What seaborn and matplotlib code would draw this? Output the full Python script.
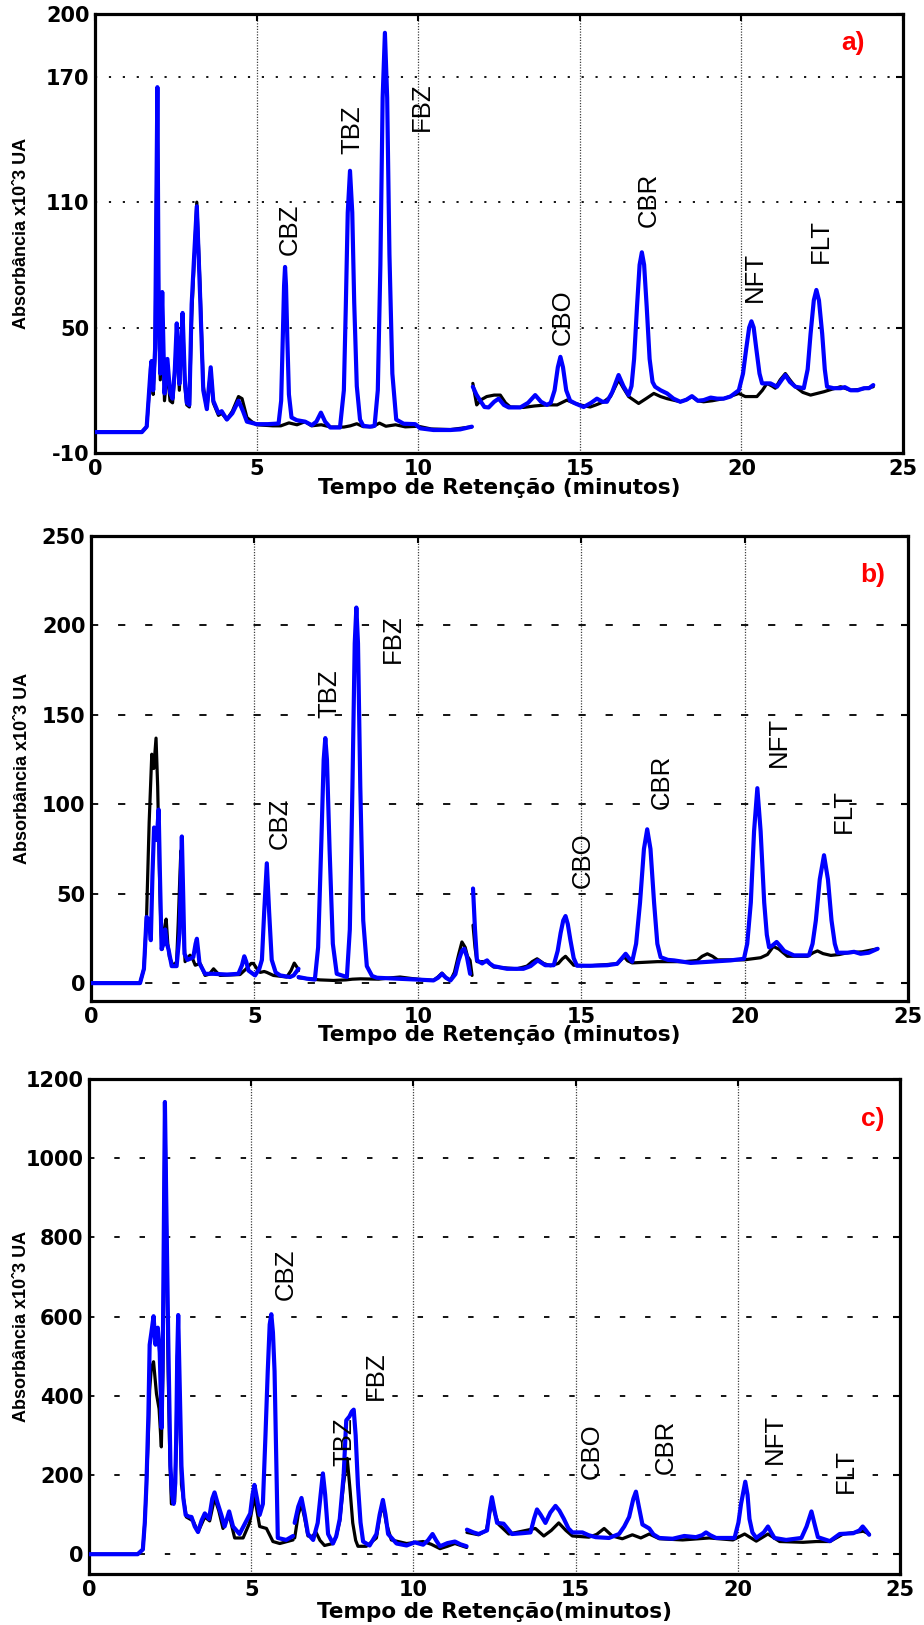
import matplotlib
matplotlib.use("Agg")
import matplotlib.pyplot as plt
import seaborn as sns
import pandas as pd
import numpy as np

# ---------------- data ----------------
peak_names = ['CBZ', 'TBZ', 'FBZ', 'CBO', 'CBR', 'NFT', 'FLT']

# panel a
a_blue_1 = [(0,0),(1.45,0),(1.6,2.6),(1.72,30),(1.75,34),(1.80,20),(1.86,40),(1.93,165),(1.97,60),(2.02,28),(2.08,67),(2.15,18.5),(2.24,35),(2.32,19),(2.40,16),(2.47,30),(2.53,52),(2.61,23),(2.66,40),(2.71,57),(2.78,25),(2.84,14),(2.92,13),(2.99,61),(3.07,85),(3.15,108),(3.25,66),(3.35,20),(3.46,11),(3.58,31),(3.66,15),(3.82,9),(3.92,10),(4.08,6),(4.25,9),(4.44,15),(4.58,10),(4.70,5),(5.0,3.8),(5.35,3.8),(5.68,4.1),(5.76,15),(5.81,45),(5.85,70),(5.88,79),(5.91,70),(5.95,45),(6.00,18),(6.08,7),(6.24,5.7),(6.50,5),(6.71,3.3),(6.85,5),(6.99,9.3),(7.12,5),(7.28,2.2),(7.58,2.2),(7.70,20),(7.76,60),(7.82,105),(7.89,125),(7.96,105),(8.02,62),(8.10,22),(8.20,6),(8.30,3),(8.51,2.6),(8.65,3),(8.75,20),(8.83,80),(8.90,160),(8.97,191),(9.04,160),(9.11,85),(9.20,28),(9.32,6),(9.55,4),(9.91,3.8),(10.06,1.8),(10.47,1),(11.0,1),(11.3,1.3),(11.66,2.6)]
a_black_1 = [(0,0),(1.45,0),(1.6,2.6),(1.72,28),(1.75,32),(1.80,18),(1.86,38),(1.93,160),(1.97,55),(2.02,25),(2.08,60),(2.15,15),(2.24,30),(2.32,15),(2.40,14),(2.47,28),(2.53,48),(2.61,20),(2.66,38),(2.71,55),(2.78,22),(2.84,13),(2.92,12),(2.99,55),(3.07,82),(3.15,110),(3.25,70),(3.35,22),(3.46,11),(3.58,30),(3.66,14),(3.82,8),(3.92,9),(4.08,6),(4.25,10),(4.44,17),(4.55,16),(4.70,7),(4.85,5),(5.0,3.5),(5.5,3),(5.75,3),(6.0,4.4),(6.25,3.5),(6.5,5),(6.7,3),(7.0,3.5),(7.3,2.4),(7.7,2.4),(7.9,3),(8.1,4),(8.3,2.6),(8.6,2.6),(8.8,4.3),(9.0,2.8),(9.3,3.5),(9.6,2.5),(10.0,2.8),(10.4,1.5),(11.0,1.2),(11.66,2.5)]
a_blue_2 = [(11.69,21.7),(11.8,18),(11.92,15),(12.05,12),(12.18,11.8),(12.35,14.5),(12.49,16),(12.65,13),(12.8,11.8),(13.16,11.8),(13.4,14),(13.62,17.7),(13.8,14.5),(13.98,13),(14.10,14),(14.22,20),(14.32,31),(14.40,36),(14.48,31),(14.58,20),(14.70,15),(14.86,13.7),(15.12,12),(15.35,14),(15.53,16),(15.70,14.5),(15.84,14.5),(16.0,19),(16.20,27.3),(16.35,22),(16.51,17.7),(16.60,22),(16.68,35),(16.77,60),(16.85,80),(16.92,86),(16.99,80),(17.07,60),(17.16,35),(17.25,24),(17.33,21.7),(17.5,20),(17.70,18.5),(17.9,16),(18.11,14.5),(18.30,15.5),(18.47,17.2),(18.65,15),(18.83,15.3),(19.05,16.5),(19.25,16),(19.45,16),(19.66,17),(19.92,20),(20.05,28),(20.15,40),(20.24,50),(20.31,53),(20.38,50),(20.46,40),(20.56,28),(20.64,23.3),(20.90,23.3),(21.1,21.7),(21.25,25),(21.36,27.3),(21.5,24),(21.67,21.7),(21.93,21),(22.05,30),(22.14,47),(22.24,63),(22.32,68),(22.40,63),(22.50,47),(22.58,30),(22.65,21.7),(22.85,21),(23.07,21),(23.2,21.5),(23.38,20),(23.6,20),(23.79,21),(23.95,21),(24.08,22.5)]
a_black_2 = [(11.69,23.3),(11.81,13),(11.95,15.5),(12.12,17),(12.35,17.7),(12.54,17.7),(12.7,14),(12.85,12),(13.26,11.8),(13.6,12.5),(13.98,13),(14.3,13),(14.60,15.3),(14.8,14),(15.01,13),(15.32,12),(15.5,13),(15.74,14.5),(15.95,17),(16.20,25),(16.35,21),(16.51,17),(16.82,13.7),(17.05,16),(17.29,18.5),(17.50,17),(17.70,16),(18.11,14.5),(18.30,15.5),(18.47,17),(18.65,15),(18.83,14.5),(19.1,15),(19.45,16),(19.92,18.5),(20.12,17),(20.48,17),(20.65,20),(20.79,23.3),(20.95,22),(21.05,21),(21.2,25),(21.36,28),(21.5,25),(21.67,21.7),(21.9,19),(22.14,17.7),(22.55,19.3),(22.8,20.5),(23.07,21.7),(23.38,20),(23.7,20.5),(24.08,21.7)]
a_label_t = [6.04, 7.95, 10.12, 14.47, 17.12, 20.43, 22.47]
a_label_y = [97, 144.5, 155.6, 55, 111, 74, 91.5]
a_yticks = [-10, 50, 110, 170, 200]

# panel b
b_blue_1 = [(0,0),(1.50,0),(1.62,8),(1.70,37),(1.78,35),(1.83,24),(1.88,60),(1.93,87),(2.01,80),(2.07,97),(2.11,60),(2.16,19),(2.22,22),(2.27,30),(2.32,22),(2.37,19),(2.47,9.5),(2.62,9.5),(2.71,28),(2.75,60),(2.78,82),(2.82,50),(2.86,16.4),(2.95,13),(3.03,13.6),(3.13,14.5),(3.20,22),(3.24,24.8),(3.28,18),(3.32,11),(3.49,5.2),(3.75,5.2),(4.16,4.8),(4.51,5.2),(4.62,10),(4.69,15),(4.75,12),(4.82,7),(5.02,4.3),(5.15,8),(5.23,13),(5.30,40),(5.38,67),(5.45,40),(5.53,13),(5.65,6),(5.79,4.3),(6.09,3.4),(6.20,4.3),(6.35,8)]
b_black_1 = [(0,0),(1.50,0),(1.62,8),(1.70,37),(1.78,90),(1.86,128),(1.92,120),(1.99,137),(2.04,110),(2.09,65),(2.14,30),(2.18,19),(2.24,30),(2.30,35.8),(2.35,22),(2.40,14.5),(2.52,9.5),(2.62,12),(2.67,34),(2.71,55),(2.75,74),(2.80,40),(2.88,12),(2.95,14),(3.03,15.6),(3.10,14),(3.19,10),(3.34,11),(3.49,4.3),(3.62,5),(3.75,8),(3.85,6),(3.95,4.3),(4.56,4.8),(4.75,8),(4.90,11),(4.97,11),(5.08,8),(5.18,6),(5.30,6.5),(5.38,6),(5.58,4.3),(5.99,3.4),(6.12,7),(6.22,11.2),(6.30,9),(6.35,7)]
b_blue_2 = [(6.35,3.4),(6.60,2.5),(6.85,2),(6.95,20),(7.05,80),(7.12,125),(7.17,137),(7.22,125),(7.30,75),(7.40,22),(7.52,5.2),(7.83,3.4),(7.92,30),(8.00,110),(8.07,190),(8.12,210),(8.17,190),(8.24,110),(8.33,35),(8.44,9.5),(8.60,4),(8.75,3),(9.46,2.4),(10.08,1.9),(10.48,1.5),(10.62,3),(10.74,5.2),(10.86,3),(11.0,1.5),(11.15,5),(11.25,12.7),(11.35,18),(11.42,19.2),(11.5,15),(11.6,5.2)]
b_black_2 = [(6.35,3),(7.0,1.8),(7.42,1.5),(7.8,1.8),(8.0,2.2),(8.24,2.4),(8.8,2.2),(9.2,3),(9.46,3.4),(9.8,2.6),(10.1,2),(10.48,1.5),(10.62,3.5),(10.74,5.6),(10.86,3),(11.0,1.5),(11.12,6),(11.25,16),(11.35,23),(11.45,20),(11.52,15),(11.6,12.7),(11.66,4.3)]
b_blue_3 = [(11.69,52.9),(11.75,30),(11.81,12.7),(11.97,11),(12.05,12),(12.12,12.7),(12.2,11),(12.32,9.5),(12.73,8),(13.23,8),(13.45,9.5),(13.67,12.7),(13.90,10),(14.16,10),(14.28,18),(14.37,28),(14.45,35),(14.52,37.5),(14.59,33),(14.67,24),(14.77,14),(14.87,9.7),(15.28,9.7),(15.80,10),(16.10,10.8),(16.25,14),(16.36,16.4),(16.46,14),(16.56,12),(16.68,22),(16.80,45),(16.92,75),(17.02,86),(17.12,75),(17.23,45),(17.33,22),(17.43,14.5),(17.65,13),(17.84,12.7),(18.35,11.3),(18.96,12),(19.57,12.7),(19.98,13.6),(20.08,22),(20.19,45),(20.29,85),(20.39,109),(20.49,85),(20.60,45),(20.68,27),(20.75,20),(20.85,21),(20.98,23),(21.1,20.5),(21.21,18),(21.51,15.5),(21.97,15.5),(22.08,22),(22.18,35),(22.30,58),(22.43,71.5),(22.55,58),(22.66,35),(22.76,22),(22.84,17),(23.15,17),(23.35,17.5),(23.55,16.4),(23.8,17),(24.07,19.2)]
b_black_3 = [(11.69,32.4),(11.75,20),(11.81,12),(12.12,12),(12.32,9),(13.03,8),(13.34,9.5),(13.50,12),(13.65,13.6),(13.85,11),(14.06,9.7),(14.30,11),(14.42,13.5),(14.52,15),(14.62,13),(14.77,10),(15.28,9.7),(16.10,10.8),(16.22,13),(16.31,14.8),(16.42,12.5),(16.56,11.3),(17.33,12),(18.15,12),(18.40,12.4),(18.55,12.7),(18.70,15),(18.86,16.4),(19.02,15),(19.17,13),(19.98,13),(20.49,14.2),(20.70,16),(20.88,20.5),(21.05,19),(21.31,15),(21.92,15),(22.10,17),(22.23,18),(22.40,16.5),(22.64,15.5),(22.90,16),(23.15,17),(23.6,17.5),(24.07,19.2)]
b_label_t = [5.77, 7.29, 9.23, 15.05, 17.48, 21.04, 23.03]
b_label_y = [89.5, 161.6, 192.7, 68.8, 112.7, 135, 96.4]
b_yticks = [0, 50, 100, 150, 200, 250]

# panel c
c_blue_1 = [(0,0),(1.50,0),(1.66,12),(1.72,80),(1.77,175),(1.83,350),(1.87,529),(1.92,558),(1.99,601),(2.05,529),(2.12,572),(2.18,510),(2.24,319),(2.28,558),(2.31,850),(2.34,1142),(2.38,900),(2.44,558),(2.51,223),(2.56,150),(2.61,127),(2.66,180),(2.69,300),(2.72,500),(2.75,604),(2.79,450),(2.85,223),(2.91,140),(2.98,99),(3.08,95),(3.16,94),(3.26,70),(3.36,56),(3.47,85),(3.57,103),(3.70,89),(3.80,140),(3.87,156),(3.96,130),(4.08,99),(4.18,70),(4.32,108),(4.44,70),(4.64,51),(4.85,84),(4.97,103),(5.04,150),(5.10,175),(5.18,140),(5.26,99),(5.36,127),(5.44,300),(5.51,462),(5.57,580),(5.62,606),(5.67,560),(5.72,462),(5.77,250),(5.82,41),(6.08,36),(6.29,46)]
c_black_1 = [(0,0),(1.50,0),(1.66,12),(1.72,80),(1.77,175),(1.83,300),(1.87,414),(1.92,470),(1.99,486),(2.08,405),(2.16,367),(2.23,271),(2.28,462),(2.31,800),(2.34,1132),(2.38,880),(2.44,462),(2.49,250),(2.54,127),(2.64,132),(2.69,300),(2.72,480),(2.75,558),(2.79,400),(2.85,175),(3.0,94),(3.21,84),(3.36,56),(3.57,94),(3.72,84),(3.87,142),(4.0,110),(4.13,65),(4.32,99),(4.49,41),(4.75,41),(4.95,79),(5.10,147),(5.26,70),(5.47,65),(5.67,32),(5.88,27),(6.29,36)]
c_blue_2 = [(6.34,79),(6.45,120),(6.55,142),(6.65,100),(6.75,51),(6.91,36),(7.05,79),(7.14,150),(7.21,204),(7.28,150),(7.37,51),(7.52,27),(7.62,45),(7.73,89),(7.85,200),(7.93,338),(8.03,348),(8.10,360),(8.16,365),(8.22,300),(8.29,175),(8.37,80),(8.45,32),(8.65,22),(8.86,51),(8.96,100),(9.06,137),(9.14,100),(9.22,51),(9.48,27),(9.79,22),(10.04,30),(10.30,24),(10.45,35),(10.59,51),(10.70,35),(10.82,20),(11.05,28),(11.28,32),(11.45,25),(11.64,20)]
c_black_2 = [(6.34,41),(6.45,100),(6.55,127),(6.65,90),(6.75,46),(6.88,45),(7.0,55),(7.12,35),(7.26,22),(7.52,27),(7.62,45),(7.73,84),(7.85,180),(7.96,242),(8.05,160),(8.13,79),(8.22,35),(8.29,20),(8.55,20),(8.86,41),(8.96,95),(9.06,127),(9.16,80),(9.32,36),(9.79,27),(10.30,32),(10.55,25),(10.82,14),(11.05,20),(11.28,27),(11.64,17)]
c_blue_3 = [(11.65,62),(11.85,55),(12.01,51),(12.27,60),(12.35,110),(12.42,144),(12.50,110),(12.58,79),(12.78,77),(13.04,51),(13.35,53),(13.61,55),(13.72,90),(13.81,113),(13.92,100),(14.07,79),(14.22,105),(14.38,122),(14.50,110),(14.64,89),(14.78,65),(14.90,55),(15.21,55),(15.40,48),(15.62,43),(16.03,41),(16.34,51),(16.50,70),(16.65,94),(16.78,140),(16.86,158),(16.95,120),(17.06,75),(17.27,65),(17.40,50),(17.58,41),(17.99,39),(18.35,46),(18.71,43),(18.90,48),(19.02,55),(19.15,48),(19.33,41),(19.90,41),(20.02,80),(20.10,127),(20.23,183),(20.30,150),(20.36,89),(20.45,55),(20.57,41),(20.80,55),(20.93,70),(21.03,55),(21.13,41),(21.49,36),(21.96,41),(22.12,70),(22.27,108),(22.37,75),(22.47,43),(22.84,33),(23.14,51),(23.56,53),(23.75,60),(23.85,70),(23.95,60),(24.05,49)]
c_black_3 = [(11.65,55),(12.01,49),(12.25,60),(12.34,100),(12.42,132),(12.52,100),(12.63,75),(12.94,51),(13.35,58),(13.76,65),(14.02,46),(14.25,60),(14.48,79),(14.70,60),(14.90,46),(15.41,43),(15.65,50),(15.88,65),(16.13,46),(16.44,39),(16.75,49),(17.01,41),(17.27,51),(17.58,39),(18.30,36),(19.12,41),(19.85,36),(20.21,51),(20.57,33),(20.93,51),(21.29,32),(22.01,30),(22.42,32),(22.84,32),(23.25,51),(23.87,58),(24.05,51)]
c_label_t = [6.07, 7.86, 8.85, 15.5, 17.77, 21.14, 23.32]
c_label_y = [707, 285, 452, 261, 271, 290, 211]
c_yticks = [0, 200, 400, 600, 800, 1000, 1200]

x_ticks = [0, 5, 10, 15, 20, 25]
panel_tags = ['a)', 'b)', 'c)']
tag_pos = [(23.44, 186), (23.93, 228), (24.15, 1099)]
xlabels = ['Tempo de Retenção (minutos)', 'Tempo de Retenção (minutos)', 'Tempo de Retenção(minutos)']
ylabel = 'Absorbância x10ˆ3 UA'

# ---------------- drawing ----------------
sns.set_style('white')
plt.rcParams['font.family'] = ['DejaVu Sans']
plt.rcParams['text.color'] = 'black'
plt.rcParams['axes.labelcolor'] = 'black'
plt.rcParams['xtick.color'] = 'black'
plt.rcParams['ytick.color'] = 'black'
plt.rcParams['axes.unicode_minus'] = False

W, H = 924, 1625
fig = plt.figure(figsize=(W / 100, H / 100), dpi=100)

def px_axes(l, t, r, b):
    return fig.add_axes([l / W, 1 - b / H, (r - l) / W, (b - t) / H])

def seg_frame(segs):
    rows = []
    for k, seg in enumerate(segs):
        for tt, vv in seg:
            rows.append((k, tt, vv))
    return pd.DataFrame(rows, columns=['seg', 't', 'v'])

def trace(ax, segs, color, lw, z):
    df = seg_frame(segs)
    sns.lineplot(data=df, x='t', y='v', units='seg', estimator=None, sort=False,
                 color=color, linewidth=lw, ax=ax, legend=False, zorder=z)

panels = [
    dict(box=(95, 14, 903, 453), black=[a_black_1, a_black_2], blue=[a_blue_1, a_blue_2],
         lt=a_label_t, ly=a_label_y, yt=a_yticks, ylim=(-10, 200), grid=(0, (1.2, 6.5)),
         xl_y=488, yl_x=22),
    dict(box=(91, 536, 908, 1001), black=[b_black_1, b_black_2, b_black_3],
         blue=[b_blue_1, b_blue_2, b_blue_3],
         lt=b_label_t, ly=b_label_y, yt=b_yticks, ylim=(-10, 250), grid=(0, (4, 11)),
         xl_y=1035, yl_x=23),
    dict(box=(89, 1079, 900, 1574), black=[c_black_1, c_black_2, c_black_3],
         blue=[c_blue_1, c_blue_2, c_blue_3],
         lt=c_label_t, ly=c_label_y, yt=c_yticks, ylim=(-50, 1200), grid=(0, (3, 11)),
         xl_y=1612, yl_x=22),
]

for i, p in enumerate(panels):
    l, t, r, b = p['box']
    ax = px_axes(l, t, r, b)
    trace(ax, p['black'], 'black', 2.3, 3)
    trace(ax, p['blue'], '#0000FF', 3.0, 4)
    ax.set_xlim(0, 25)
    ax.set_ylim(*p['ylim'])
    ax.set_xticks(x_ticks)
    ax.set_yticks(p['yt'])
    ax.set_xlabel('')
    ax.set_ylabel('')
    ax.xaxis.grid(True, color='0.25', linestyle=(0, (1, 1.2)), linewidth=0.9)
    ax.yaxis.grid(True, color='black', linestyle=p['grid'], linewidth=1.3)
    ax.set_axisbelow(True)
    for s in ax.spines.values():
        s.set_linewidth(2.3)
        s.set_color('black')
        s.set_visible(True)
    ax.tick_params(direction='in', top=True, right=True, length=5, width=1.5,
                   labelsize=15, pad=4, colors='black')
    for lab in ax.get_xticklabels() + ax.get_yticklabels():
        lab.set_fontweight('bold')
    for name, tx, ty in zip(peak_names, p['lt'], p['ly']):
        ax.text(tx, ty, name, rotation=90, ha='center', va='center', color='black',
                fontsize=18.5, family='Liberation Sans', zorder=6)
    tx, ty = tag_pos[i]
    ax.text(tx, ty, panel_tags[i], color='#FF0000', fontsize=19, fontweight='bold',
            family='Liberation Sans', ha='center', va='center', zorder=6)
    fig.text(((l + r) / 2) / W, 1 - p['xl_y'] / H, xlabels[i], ha='center', va='center',
             fontsize=15.5, fontweight='bold', color='black')
    fig.text(p['yl_x'] / W, 1 - ((t + b) / 2) / H, ylabel, rotation=90, ha='center',
             va='center', fontsize=13, fontweight='bold', family='Liberation Sans',
             color='black')

fig.savefig('out.png', dpi=100, facecolor='white')
